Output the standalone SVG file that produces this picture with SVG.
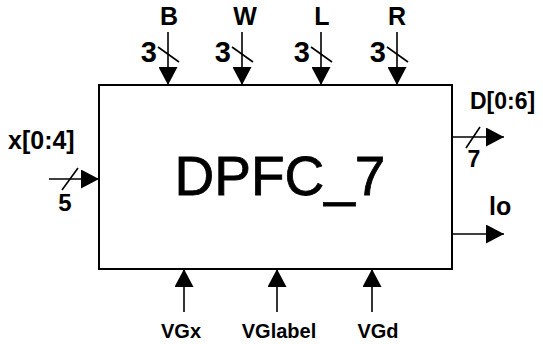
<svg xmlns="http://www.w3.org/2000/svg" width="543" height="344" viewBox="0 0 543 344">
<style>
.ln{stroke:#000;stroke-width:1.6;fill:none}
.box{stroke:#000;stroke-width:2;fill:#fff}
.t{font-family:"Liberation Sans",Arial,sans-serif;font-weight:bold;fill:#000}
.title{font-family:"Liberation Sans",Arial,sans-serif;font-size:55px;fill:#000;stroke:#000;stroke-width:0.8}
</style>
<defs>
<marker id="ah" viewBox="0 0 18 19" refX="18" refY="9.5" markerWidth="18" markerHeight="19" markerUnits="userSpaceOnUse" orient="auto">
<path d="M0,0 L18,9.5 L0,19 Z" fill="#000"/>
</marker>
</defs>
<g id="block">
<rect class="box" x="99" y="85" width="353" height="184"/>
<text class="title" x="280" y="195" text-anchor="middle">DPFC_7</text>
</g>
<g id="connectors">
<line class="ln" x1="168" y1="32" x2="168" y2="85" marker-end="url(#ah)"/>
<line class="ln" x1="242" y1="32" x2="242" y2="85" marker-end="url(#ah)"/>
<line class="ln" x1="321" y1="32" x2="321" y2="85" marker-end="url(#ah)"/>
<line class="ln" x1="397" y1="32" x2="397" y2="85" marker-end="url(#ah)"/>
<line class="ln" x1="158" y1="47" x2="179" y2="62"/>
<line class="ln" x1="232" y1="47" x2="253" y2="62"/>
<line class="ln" x1="311" y1="47" x2="332" y2="62"/>
<line class="ln" x1="387" y1="47" x2="408" y2="62"/>
<line class="ln" x1="49" y1="179" x2="99" y2="179" marker-end="url(#ah)"/>
<line class="ln" x1="62" y1="190" x2="78" y2="168"/>
<line class="ln" x1="452" y1="137" x2="504" y2="137" marker-end="url(#ah)"/>
<line class="ln" x1="466" y1="148" x2="480" y2="127"/>
<line class="ln" x1="452" y1="234" x2="504" y2="234" marker-end="url(#ah)"/>
<line class="ln" x1="184" y1="312" x2="184" y2="269" marker-end="url(#ah)"/>
<line class="ln" x1="277" y1="312" x2="277" y2="269" marker-end="url(#ah)"/>
<line class="ln" x1="372" y1="312" x2="372" y2="269" marker-end="url(#ah)"/>
</g>
<g id="in-B"><text class="t" x="169" y="25" font-size="25" text-anchor="middle">B</text><text class="t" x="157" y="62" font-size="29" text-anchor="end">3</text></g>
<g id="in-W"><text class="t" x="245" y="25" font-size="25" text-anchor="middle">W</text><text class="t" x="231" y="62" font-size="29" text-anchor="end">3</text></g>
<g id="in-L"><text class="t" x="322" y="25" font-size="25" text-anchor="middle">L</text><text class="t" x="310" y="62" font-size="29" text-anchor="end">3</text></g>
<g id="in-R"><text class="t" x="397" y="25" font-size="25" text-anchor="middle">R</text><text class="t" x="386" y="62" font-size="29" text-anchor="end">3</text></g>
<g id="in-x"><text class="t" x="8" y="149" font-size="25">x[0:4]</text><text class="t" x="65" y="211" font-size="24" text-anchor="middle">5</text></g>
<g id="out-D"><text class="t" x="470" y="109" font-size="23">D[0:6]</text><text class="t" x="474" y="167" font-size="23" text-anchor="middle">7</text></g>
<g id="out-lo"><text class="t" x="489" y="215" font-size="25">lo</text></g>
<g id="VGx"><text class="t" x="181" y="338" font-size="20" text-anchor="middle">VGx</text></g>
<g id="VGlabel"><text class="t" x="279" y="338" font-size="20" text-anchor="middle">VGlabel</text></g>
<g id="VGd"><text class="t" x="378" y="338" font-size="20" text-anchor="middle">VGd</text></g>
</svg>
